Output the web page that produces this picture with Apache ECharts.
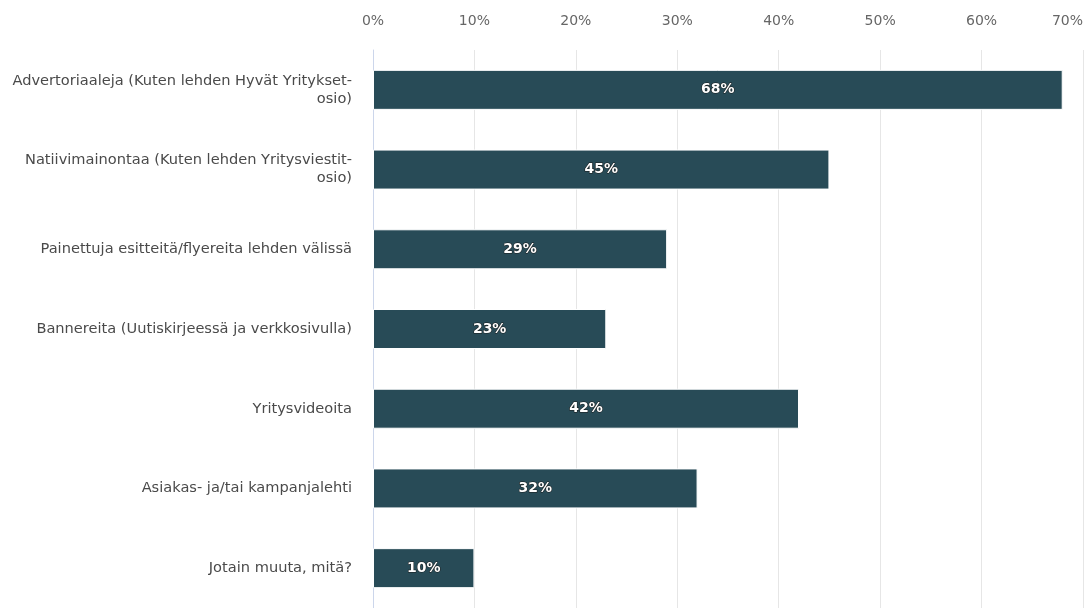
<!DOCTYPE html>
<html>
<head>
<meta charset="utf-8">
<script src="https://cdn.jsdelivr.net/npm/echarts@6/dist/echarts.min.js"></script>
<style>
  html, body { margin: 0; padding: 0; background: #fff; }
  #chart { width: 1090px; height: 608px; }
</style>
</head>
<body>
<div id="chart"></div>
<script>
// kategoriat ylhäältä alas
const categories = [
  'Advertoriaaleja (Kuten lehden Hyvät Yritykset-\nosio)',
  'Natiivimainontaa (Kuten lehden Yritysviestit-\nosio)',
  'Painettuja esitteitä/flyereita lehden välissä',
  'Bannereita (Uutiskirjeessä ja verkkosivulla)',
  'Yritysvideoita',
  'Asiakas- ja/tai kampanjalehti',
  'Jotain muuta, mitä?'
];
const values = [68, 45, 29, 23, 42, 32, 10];

const chart = echarts.init(document.getElementById('chart'));
chart.setOption({
  animation: false,
  grid: { left: 373, right: 7, top: 50, height: 563, containLabel: false },
  xAxis: {
    type: 'value',
    position: 'top',
    min: 0,
    max: 70,
    interval: 10,
    axisLine: { show: false },
    axisTick: { show: false },
    axisLabel: {
      margin: 22,
      color: '#666',
      fontSize: 14,
      fontFamily: 'DejaVu Sans',
      formatter: '{value}%',
      alignMaxLabel: 'right'
    },
    splitLine: { lineStyle: { color: '#e6e6e6', width: 1 } }
  },
  yAxis: {
    type: 'category',
    data: categories,
    inverse: true,
    axisLine: { show: true, lineStyle: { color: '#ccd6eb' } },
    axisTick: { show: false },
    axisLabel: {
      margin: 21,
      color: '#4a4a4a',
      fontSize: 14.6,
      lineHeight: 18,
      align: 'right',
      fontFamily: 'DejaVu Sans'
    }
  },
  series: [{
    type: 'bar',
    data: values,
    barWidth: 40,
    itemStyle: { color: '#284b57', borderColor: '#ffffff', borderWidth: 1 },
    label: {
      show: true,
      position: 'inside',
      formatter: '{c}%',
      color: '#fff',
      fontSize: 14,
      fontWeight: 'bold',
      fontFamily: 'DejaVu Sans',
      textBorderColor: '#1a1a1a',
      textBorderWidth: 1
    }
  }]
});
</script>
</body>
</html>
